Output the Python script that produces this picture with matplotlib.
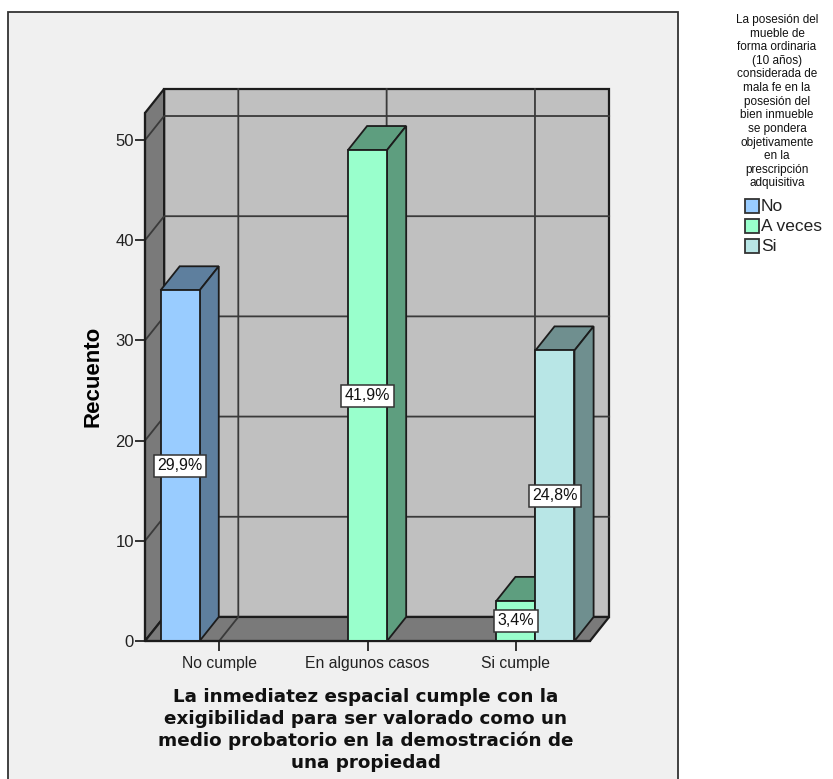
import matplotlib
matplotlib.use('Agg')
import matplotlib.pyplot as plt
from matplotlib.patches import Polygon, Rectangle

categories = ['No cumple', 'En algunos casos', 'Si cumple']
legend_labels = ['No', 'A veces', 'Si']
front_colors = ['#99ccff', '#99ffcc', '#b8e6e6']
side_colors = ['#5e7f9e', '#5e9e7f', '#6f8f8f']

# position of each bar group, series index, count, label
bar_cat = [0, 1, 2, 2]
bar_series = [0, 1, 1, 2]
bar_values = [35, 49, 4, 29]
bar_labels = ['29,9%', '41,9%', '3,4%', '24,8%']

yticks = [0, 10, 20, 30, 40, 50]

legend_title = ('La posesión del\nmueble de\nforma ordinaria\n(10 años)\nconsiderada de\n'
                'mala fe en la\nposesión del\nbien inmueble\nse pondera\nobjetivamente\n'
                'en la\nprescripción\nadquisitiva')
xlabel = ('La inmediatez espacial cumple con la\nexigibilidad para ser valorado como un\n'
          'medio probatorio en la demostración de\nuna propiedad')

W, H = 833, 779
plt.rcParams['font.family'] = ['Liberation Sans']
fig = plt.figure(figsize=(W / 100, H / 100), dpi=100)

# grey panel behind the chart
bg = fig.add_axes([0, 0, 1, 1])
bg.set_xlim(0, W)
bg.set_ylim(H, 0)
bg.axis('off')
bg.add_patch(Rectangle((8, 12), 670, H, fc='#f0f0f0', ec='#333333', lw=1.3))

ax = fig.add_axes([145 / W, 1 - 641 / H, 445 / W, 528 / H])
ax.set_xlim(-0.5, 2.5)
ax.set_ylim(0, 52.7)
ax.patch.set_visible(False)
for s in ['top', 'right']:
    ax.spines[s].set_visible(False)
for s in ['left', 'bottom']:
    ax.spines[s].set_linewidth(1.5)
    ax.spines[s].set_color('#1c1c1c')
    ax.spines[s].set_zorder(20)

# depth of the 3D box, in data units
dx = 0.129
dy = 2.4
barw = 0.2635
edge = '#1c1c1c'
x0, x1 = ax.get_xlim()
ytop = ax.get_ylim()[1]
yback = ytop + dy


def poly(pts, fc, z, ec=edge, lw=1.3):
    ax.add_patch(Polygon(pts, closed=True, fc=fc, ec=ec, lw=lw, zorder=z, clip_on=False))


# walls and floor
poly([(x0 + dx, dy), (x1 + dx, dy), (x1 + dx, yback), (x0 + dx, yback)], '#c0c0c0', 1, lw=1.6)
poly([(x0, 0), (x0 + dx, dy), (x0 + dx, yback), (x0, ytop)], '#7a7a7a', 2, lw=1.6)
poly([(x0, 0), (x1, 0), (x1 + dx, dy), (x0 + dx, dy)], '#7a7a7a', 2, lw=1.6)

for v in yticks[1:]:
    ax.plot([x0, x0 + dx, x1 + dx], [v, v + dy, v + dy], color='#3a3a3a', lw=1.3,
            zorder=3, clip_on=False)
for i in range(len(categories)):
    ax.plot([i, i + dx, i + dx], [0, dy, yback], color='#3a3a3a', lw=1.3, zorder=3,
            clip_on=False)

# bars, back to front
for cat, ser, val, lab in zip(bar_cat, bar_series, bar_values, bar_labels):
    left = cat + (ser - 1) * barw - barw / 2
    right = left + barw
    z = 5 + ser
    poly([(left, val), (right, val), (right + dx, val + dy), (left + dx, val + dy)],
         side_colors[ser], z)
    poly([(right, 0), (right + dx, dy), (right + dx, val + dy), (right, val)],
         side_colors[ser], z)
    poly([(left, 0), (right, 0), (right, val), (left, val)], front_colors[ser], z)
    ax.text((left + right) / 2, val / 2, lab, ha='center', va='center', fontsize=11.5,
            color='#111111', zorder=10,
            bbox=dict(boxstyle='square,pad=0.22', fc='white', ec='#333333', lw=1.1))

ax.set_xticks(range(len(categories)))
ax.set_xticklabels(categories, fontsize=11.3, color='#222222')
ax.set_yticks(yticks)
ax.tick_params(axis='y', labelsize=12, length=7, width=1.3, color='#222222', pad=1,
               labelcolor='#222222')
ax.tick_params(axis='x', length=7, width=1.3, color='#222222', pad=4)
ax.set_ylabel('Recuento', fontsize=16, fontweight='bold')
ax.yaxis.set_label_coords((104 - 145) / 445, (641 - 376) / 528)

fig.text(366 / W, 1 - 730 / H, xlabel, ha='center', va='center', fontsize=13.2,
         fontweight='bold', family='DejaVu Sans', linespacing=1.25, color='#111111')

# legend
fig.text(777 / W, 1 - 14 / H, legend_title, ha='center', va='top', fontsize=8.5,
         linespacing=1.18, color='#111111')
for i, lab in enumerate(legend_labels):
    y = 206 + i * 20
    bg.add_patch(Rectangle((745, y - 7), 14, 14, fc=front_colors[i], ec='#333333', lw=1.3))
    bg.text(761, y, lab, ha='left', va='center', fontsize=12.5, color='#222222')

fig.savefig('out.png', dpi=100)
